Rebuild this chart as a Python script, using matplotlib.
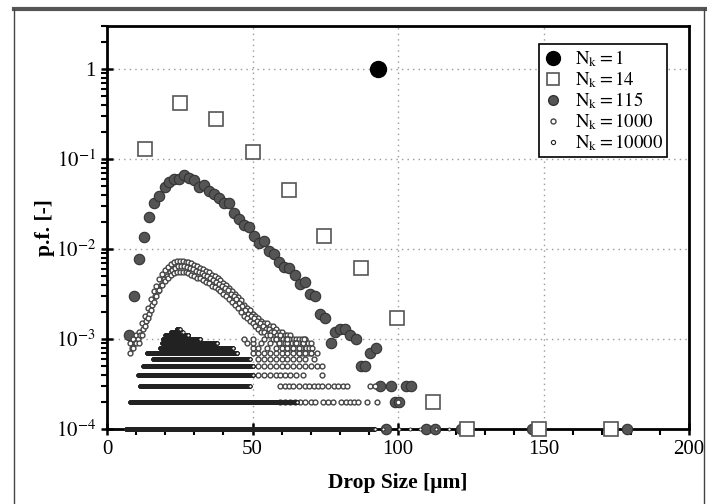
import numpy as np
import matplotlib.pyplot as plt
from matplotlib.ticker import MultipleLocator, LogLocator, FuncFormatter, NullFormatter
from matplotlib.lines import Line2D

plt.rcParams['font.family'] = ['Liberation Serif', 'DejaVu Serif']
plt.rcParams['mathtext.fontset'] = 'stix'
plt.rcParams['font.size'] = 14

# ---- data ----
# N_k = 1
x_n1 = [93.0]
pf_n1 = [1.0]

# N_k = 14
x_n14 = [13.1, 25.1, 37.5, 50.2, 62.5, 74.6, 87.3, 99.7, 112.0, 123.7, 148.5, 173.2]
pf_n14 = [0.128, 0.42, 0.277, 0.119, 0.045, 0.0138, 0.0062, 0.0017, 0.0002,
          0.0001, 0.0001, 0.0001]

# N_k = 115
x_n115 = [7.6, 9.4, 11.1, 12.8, 14.4, 16.3, 18.0, 19.8, 21.4, 23.1, 24.9, 26.6,
          28.3, 30.0, 31.7, 33.4, 35.2, 36.9, 38.6, 40.3, 42.0, 43.8, 45.5, 47.2,
          48.9, 50.6, 52.3, 54.1, 55.8, 57.5, 59.2, 60.9, 62.7, 64.5, 66.3, 68.0,
          69.8, 71.5, 73.3, 74.9, 76.9, 78.5, 80.2, 81.9, 83.6, 85.5, 87.2, 88.8,
          90.5, 92.3, 93.9, 95.8, 97.5, 99.1, 100.3, 102.6, 104.4, 109.6, 112.8,
          121.6, 146.2, 178.6]
pf_n115 = [0.0011, 0.0030, 0.0078, 0.0135, 0.0228, 0.0327, 0.0388, 0.0493, 0.0561,
           0.0595, 0.0595, 0.0659, 0.0615, 0.0585, 0.0484, 0.0514, 0.0445, 0.0408,
           0.0372, 0.0321, 0.0321, 0.0249, 0.0217, 0.0183, 0.0177, 0.0139, 0.0118,
           0.0122, 0.0096, 0.0089, 0.0071, 0.0063, 0.0062, 0.0051, 0.0041, 0.0043,
           0.0032, 0.0030, 0.0019, 0.0017, 0.0009, 0.0012, 0.0013, 0.0013, 0.0011,
           0.0010, 0.0005, 0.0005, 0.0007, 0.0008, 0.0003, 0.0001, 0.0003, 0.0002,
           0.0002, 0.0003, 0.0003, 0.0001, 0.0001, 0.0001, 0.0001, 0.0001]

# N_k = 1000, main cloud (counts out of 10000 samples)
x_n1000 = list(range(8, 71))
x_n1000_mid = [v + 0.5 for v in x_n1000]
cnt_n1000_hi = [9, 10, 11, 12, 15, 18, 22, 28, 34, 39, 46, 53, 58, 63, 68, 71, 73, 74,
                74, 72, 71, 69, 66, 64, 62, 60, 57, 55, 52, 50, 47, 45, 42, 40, 37, 34,
                32, 29, 27, 24, 22, 21, 19, 18, 17, 16, 15, 15, 14, 14, 13, 12, 12, 11,
                11, 11, 10, 10, 10, 10, 10, 9, 9]
cnt_n1000_mid = [8, 9, 10, 11, 13, 16, 19, 24, 30, 34, 40, 46, 50, 55, 59, 62, 64, 64,
                 65, 63, 62, 60, 57, 56, 54, 52, 50, 48, 45, 43, 41, 39, 37, 35, 32, 30,
                 28, 25, 23, 21, 19, 18, 17, 16, 15, 14, 13, 13, 12, 12, 11, 11, 10, 10,
                 10, 9, 9, 9, 8, 9, 8, 8, 8]
cnt_n1000_lo = [7, 8, 9, 9, 11, 14, 17, 21, 26, 30, 35, 40, 44, 48, 52, 54, 56, 56, 56,
                55, 54, 52, 50, 48, 47, 45, 43, 42, 39, 38, 36, 34, 32, 30, 28, 26, 24,
                22, 20, 18, 17, 16, 15, 14, 13, 12, 12, 11, 11, 10, 10, 9, 9, 9, 8, 8,
                8, 8, 7, 7, 7, 7, 7]

# N_k = 1000, sparse tail at low counts
x_n1000_c2 = [59.5, 61.0, 62.9, 64.5, 66.3, 68.0, 70.1, 71.5, 74.2, 76.0, 77.7, 80.4,
              82.0, 83.5, 85.0, 86.3, 89.3, 92.8, 100.0]
x_n1000_c3 = [59.5, 61.0, 62.5, 64.0, 66.0, 68.0, 69.5, 71.0, 72.5, 74.0, 76.0, 78.0,
              79.5, 81.0, 82.5, 90.4, 92.1]
x_n1000_c4 = [52.0, 54.0, 56.0, 58.0, 59.5, 61.0, 63.0, 65.0, 67.5, 74.0]
x_n1000_c5 = [52.0, 54.0, 56.0, 58.0, 60.0, 62.0, 64.0, 66.0, 68.0, 70.0, 72.0, 74.0]
x_n1000_c6 = [52.0, 54.0, 56.0, 58.0, 60.0, 62.0, 64.0, 66.0, 68.0, 71.0]
x_n1000_c7 = [50.0, 52.0, 54.0, 56.0, 58.0, 60.0, 62.0, 64.0, 66.0, 68.0, 70.0, 72.0]
x_n1000_c8 = [50.0, 52.0, 55.0, 58.0, 60.0, 62.0, 64.0, 66.0]
x_n1000_c9 = [48.0, 50.0, 53.0, 56.0, 59.0, 62.0, 65.0]
x_n1000_c10 = [47.0, 50.0, 54.0, 58.0, 62.0, 67.7]

# N_k = 10000: dense rows of points at count/10000 (row extents in um)
band_cnt = [1, 2, 3, 4, 5, 6, 7, 8, 9, 10, 11, 12, 13]
band_start = [6.5, 7.9, 11.3, 10.7, 12.4, 15.8, 13.7, 18.2, 18.9, 19.2, 20.0, 22.0, 24.0]
band_end = [92.0, 65.3, 49.1, 50.2, 50.2, 49.1, 44.7, 43.3, 37.8, 32.0, 28.0, 26.0, 25.0]
x_n10000_sparse = [95.0, 100.5, 104.0, 107.5, 113.0, 117.5]

N_SAMPLES = 10000
BIN_10000 = 200.0 / 10000

# ---- figure ----
fig = plt.figure(figsize=(7.07, 5.04), dpi=100)
ax = fig.add_axes([107 / 707, 1 - 429 / 504, 582 / 707, 403 / 504])

kw = dict(ls='none', clip_on=False)

ax.plot(x_n1, pf_n1, 'o', ms=11.5, mfc='black', mec='black', zorder=5, **kw)
ax.plot(x_n14, pf_n14, 's', ms=10, mfc='white', mec='#555555', mew=1.2, zorder=4, **kw)
ax.plot(x_n115, pf_n115, 'o', ms=7.5, mfc='#555555', mec='#333333', mew=0.8, zorder=3, **kw)

c1000 = '#444444'
for xs, cnt in ((x_n1000, cnt_n1000_hi), (x_n1000_mid, cnt_n1000_mid),
                (x_n1000, cnt_n1000_lo)):
    ax.plot(xs, np.array(cnt) / N_SAMPLES, 'o', ms=3.5, mfc='white', mec=c1000,
            mew=1.0, zorder=3.2, **kw)
tails = [x_n1000_c2, x_n1000_c3, x_n1000_c4, x_n1000_c5, x_n1000_c6,
         x_n1000_c7, x_n1000_c8, x_n1000_c9, x_n1000_c10]
for k, xs in enumerate(tails):
    ax.plot(xs, np.full(len(xs), (k + 2) / N_SAMPLES), 'o', ms=3.5, mfc='white',
            mec=c1000, mew=1.0, zorder=3.2, **kw)

for cnt, a, b in zip(band_cnt, band_start, band_end):
    xs = np.arange(a, b, BIN_10000)
    ax.plot(xs, np.full(len(xs), cnt / N_SAMPLES), 'o', ms=2.2, mfc='white',
            mec='#222222', mew=0.6, zorder=3.4, **kw)
ax.plot(x_n10000_sparse, np.full(len(x_n10000_sparse), 1 / N_SAMPLES), 'o', ms=2.2,
        mfc='white', mec='#222222', mew=0.6, zorder=3.4, **kw)

ax.set_yscale('log')
ax.set_xlim(0, 200)
ax.set_ylim(1e-4, 3.0)

ax.xaxis.set_major_locator(MultipleLocator(50))
ax.xaxis.set_minor_locator(MultipleLocator(10))
ax.yaxis.set_major_locator(LogLocator(base=10, numticks=10))
ax.yaxis.set_minor_locator(LogLocator(base=10, subs=np.arange(2, 10), numticks=20))
ax.yaxis.set_minor_formatter(NullFormatter())


def yfmt(v, pos):
    e = int(round(np.log10(v)))
    if e == 0:
        return '1'
    return r'$10^{%d}$' % e


ax.yaxis.set_major_formatter(FuncFormatter(yfmt))

ax.tick_params(which='major', direction='inout', length=9, width=1.8, labelsize=15,
               top=False, right=False)
ax.tick_params(which='minor', direction='out', length=4, width=1.5,
               top=False, right=False)
for s in ax.spines.values():
    s.set_linewidth(2.0)

ax.grid(True, which='major', color='#999999', linestyle=(0, (1, 3)), linewidth=1.0)
ax.set_axisbelow(True)

ax.set_xlabel('Drop Size [µm]', fontsize=15.5, fontweight='bold')
ax.set_ylabel('p.f. [-]', fontsize=15.5, fontweight='bold')
ax.xaxis.set_label_coords(0.5, -0.11)
ax.yaxis.set_label_coords(-0.09, 0.5)

handles = [
    Line2D([], [], ls='none', marker='o', ms=10, mfc='black', mec='black'),
    Line2D([], [], ls='none', marker='s', ms=9, mfc='white', mec='#555555', mew=1.2),
    Line2D([], [], ls='none', marker='o', ms=7, mfc='#555555', mec='#333333'),
    Line2D([], [], ls='none', marker='o', ms=3.6, mfc='white', mec=c1000, mew=1.0),
    Line2D([], [], ls='none', marker='o', ms=3.0, mfc='white', mec='#222222', mew=0.8),
]
labels = [r'$\mathrm{N_k = 1}$', r'$\mathrm{N_k = 14}$', r'$\mathrm{N_k = 115}$',
          r'$\mathrm{N_k = 1000}$', r'$\mathrm{N_k = 10000}$']
leg = ax.legend(handles, labels, loc='upper right', bbox_to_anchor=(0.962, 0.955),
                fontsize=13.5, frameon=True, fancybox=False, framealpha=1,
                edgecolor='black', borderpad=0.22, labelspacing=0.02,
                handlelength=1.1, handletextpad=0.6, borderaxespad=0)
leg.get_frame().set_linewidth(1.2)

# outer page frame of the screenshot
fig.add_artist(plt.Line2D([13.5 / 707, 1.0], [1 - 8.5 / 504] * 2, color='#555555',
                          lw=3, transform=fig.transFigure))
fig.add_artist(plt.Line2D([13.5 / 707] * 2, [0, 1 - 8.5 / 504], color='#444444',
                          lw=1, transform=fig.transFigure))
fig.add_artist(plt.Line2D([704 / 707] * 2, [0, 1 - 8.5 / 504], color='#444444',
                          lw=1, transform=fig.transFigure))

fig.savefig('out.png', dpi=100)
